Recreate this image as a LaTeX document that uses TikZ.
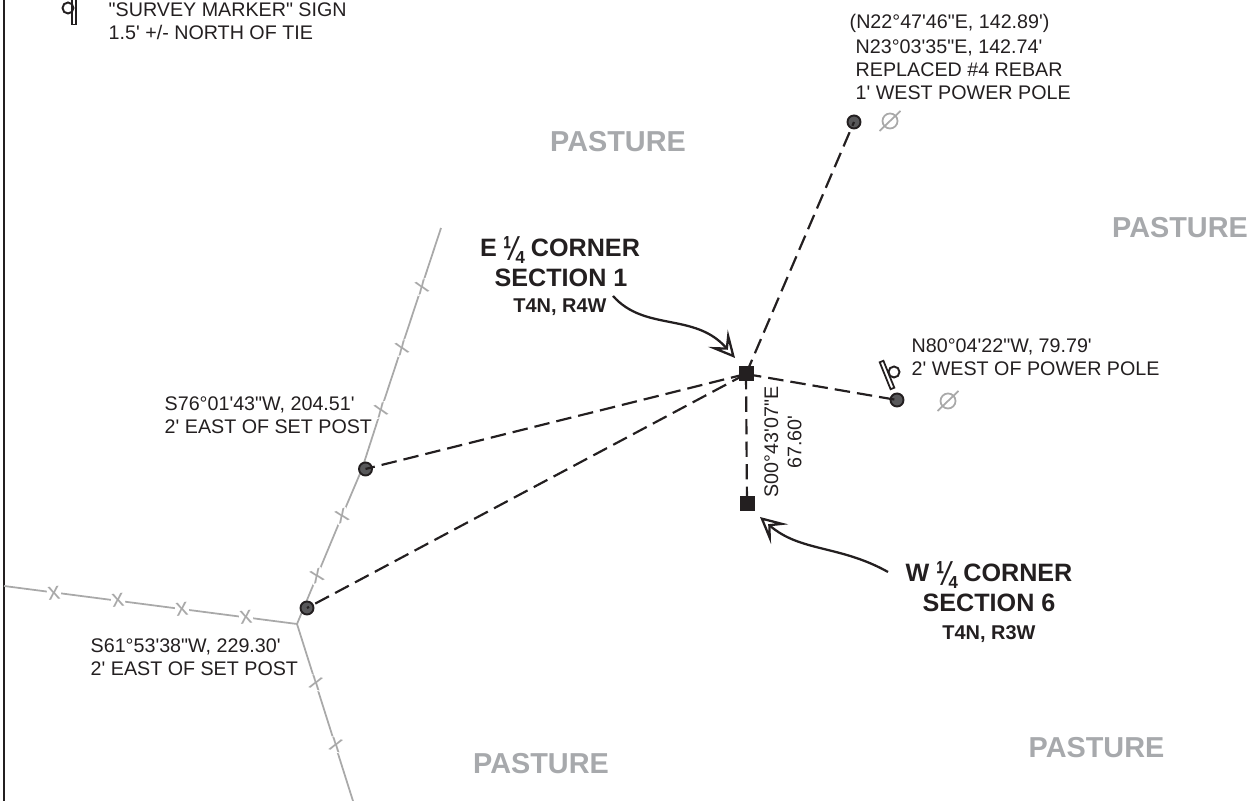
\documentclass[tikz,border=0pt]{standalone}
\usepackage{fontspec}
\usetikzlibrary{arrows.meta}
\newfontfamily\surveyfont{Liberation Sans}
\definecolor{ink}{HTML}{231F20}
\definecolor{fence}{HTML}{A9A9A9}
\definecolor{pasture}{HTML}{A7A9AC}
\definecolor{monument}{HTML}{58585A}
\newcommand{\quarterfrac}{\raisebox{-0.9pt}{\scalebox{0.96}[1.38]{¼}}}
\tikzset{
  note/.style={font=\surveyfont\fontsize{5.6}{6.6}\selectfont, text=ink, align=left, anchor=west, inner sep=0pt},
  title/.style={font=\surveyfont\bfseries\fontsize{7.15}{8}\selectfont, text=ink, inner sep=0pt},
  subtitle/.style={font=\surveyfont\bfseries\fontsize{5.67}{6.6}\selectfont, text=ink, inner sep=0pt},
  land/.style={font=\surveyfont\bfseries\fontsize{8.2}{9}\selectfont, text=pasture, inner sep=0pt},
  found/.style={circle, draw=ink, fill=monument, line width=0.55pt, inner sep=0pt, minimum size=1.3mm},
  corner/.style={rectangle, fill=ink, inner sep=0pt, minimum size=1.5mm},
  tie/.style={draw=ink, line width=0.62pt, dash pattern=on 4.4pt off 2pt},
  fenceline/.style={draw=fence, line width=0.5pt},
  fencex/.style={font=\surveyfont\fontsize{7}{7}\selectfont, text=fence, fill=white, inner sep=0.2pt},
  polering/.style={circle, draw=fence, line width=0.5pt, inner sep=0pt, minimum size=1.5mm},
  poleslash/.style={draw=fence, line width=0.5pt},
  signpost/.style={rectangle, draw=ink, fill=white, line width=0.5pt, inner sep=0pt, minimum width=0.4mm, minimum height=2.9mm},
  signdisc/.style={circle, draw=ink, line width=0.55pt, inner sep=0pt, minimum size=1.1mm},
  leader/.style={draw=ink, line width=0.65pt, -{Stealth[open, length=2.6mm, width=2.6mm, inset=1.2mm, line width=0.65pt]}}
}
\begin{document}
\begin{tikzpicture}[x=0.01cm, y=-0.01cm]
  \useasboundingbox (0,0) rectangle (1251,801);

  % section line at the left edge
  \coordinate (frameTop) at (4,0);
  \coordinate (frameBottom) at (4,801);
  \draw[line width=0.7pt, draw=ink] (frameTop) -- (frameBottom);

  % fences
  \coordinate (junction) at (297,624);
  \coordinate (fenceN) at (441,228);
  \coordinate (bendA) at (381,410);
  \coordinate (bendB) at (362,469);
  \coordinate (bendC) at (342,516);
  \coordinate (fenceW) at (4,586);
  \coordinate (fenceS) at (353,801);
  \draw[fenceline] (fenceN) -- (bendA) -- (bendB) -- (bendC) -- (junction);
  \draw[fenceline] (fenceW) -- (junction);
  \draw[fenceline] (fenceS) -- (junction);
  \foreach \name/\px/\py/\ang in {n1/422/287/20, n2/402/348/20, n3/381/410/20, n4/342/516/23, n5/317/576/23,
      w1/54/593/7, w2/118/600/7, w3/182/609/7, w4/246/617/7,
      s1/316/683/-17, s2/336/745/-17}
    \node[fencex, rotate=\ang] (x\name) at (\px,\py) {x};

  % monuments
  \node[found] (rebar) at (854,122) {};
  \node[found] (westPole) at (897,400) {};
  \node[found] (postN) at (365.5,469) {};
  \node[found] (postS) at (307,608) {};
  \node[corner] (cornerE) at (746,374) {};
  \node[corner] (cornerW) at (747,504) {};

  % ties
  \draw[tie] (cornerE.center) -- (rebar.center);
  \draw[tie] (cornerE.center) -- (westPole.center);
  \draw[tie] (cornerE.center) -- (postN.center);
  \draw[tie] (cornerE.center) -- (postS.center);
  \draw[tie] (cornerE.center) -- (cornerW.center);

  % power poles
  \node[polering] (pole1) at (890,121) {};
  \node[polering] (pole2) at (948,401) {};
  \draw[poleslash] (pole1) ++(-10.5,10) -- ++(21,-20);
  \draw[poleslash] (pole2) ++(-10.5,10) -- ++(21,-20);

  % signs
  \node[signpost] (signA) at (74,10) {};
  \node[signdisc] (discA) at (68,8) {};
  \node[signpost, rotate=22] (signB) at (887,375) {};
  \node[signdisc] (discB) at (894,372) {};

  % labels
  \node[note] (signNote) at (108,21) {"SURVEY MARKER" SIGN\\1.5' +/- NORTH OF TIE};
  \node[note] (record) at (849,23) {(N22°47'46"E, 142.89')};
  \node[note] (rebarNote) at (855,70) {N23°03'35"E, 142.74'\\REPLACED \#4 REBAR\\1' WEST POWER POLE};
  \node[note] (poleNote) at (911,357.5) {N80°04'22"W, 79.79'\\2' WEST OF POWER POLE};
  \node[note] (postNNote) at (164,415) {S76°01'43"W, 204.51'\\2' EAST OF SET POST};
  \node[note] (postSNote) at (90,657) {S61°53'38"W, 229.30'\\2' EAST OF SET POST};
  \node[note, anchor=center, align=center, rotate=90] (tieNote) at (783,442) {S00°43'07"E\\67.60'};

  \node[title, anchor=base] (titleE) at (560,257) {E \quarterfrac{} CORNER};
  \node[title] (sectionE) at (561,278) {SECTION 1};
  \node[subtitle] (townE) at (560,307) {T4N, R4W};
  \node[title, anchor=base] (titleW) at (989,582) {W \quarterfrac{} CORNER};
  \node[title] (sectionW) at (989,603) {SECTION 6};
  \node[subtitle] (townW) at (989,634) {T4N, R3W};

  \node[land] (pastureA) at (618,142) {PASTURE};
  \node[land] (pastureB) at (1180,228) {PASTURE};
  \node[land] (pastureC) at (1096.5,748) {PASTURE};
  \node[land] (pastureD) at (541,764) {PASTURE};

  % leaders
  \coordinate (leaderE) at (613,296);
  \coordinate (tipE) at (735,358);
  \coordinate (leaderW) at (888,572);
  \coordinate (tipW) at (760,517);
  \draw[leader] (leaderE) .. controls (645,332) and (695,312) .. (tipE);
  \draw[leader] (leaderW) .. controls (840,545) and (800,552) .. (tipW);
\end{tikzpicture}
\end{document}
